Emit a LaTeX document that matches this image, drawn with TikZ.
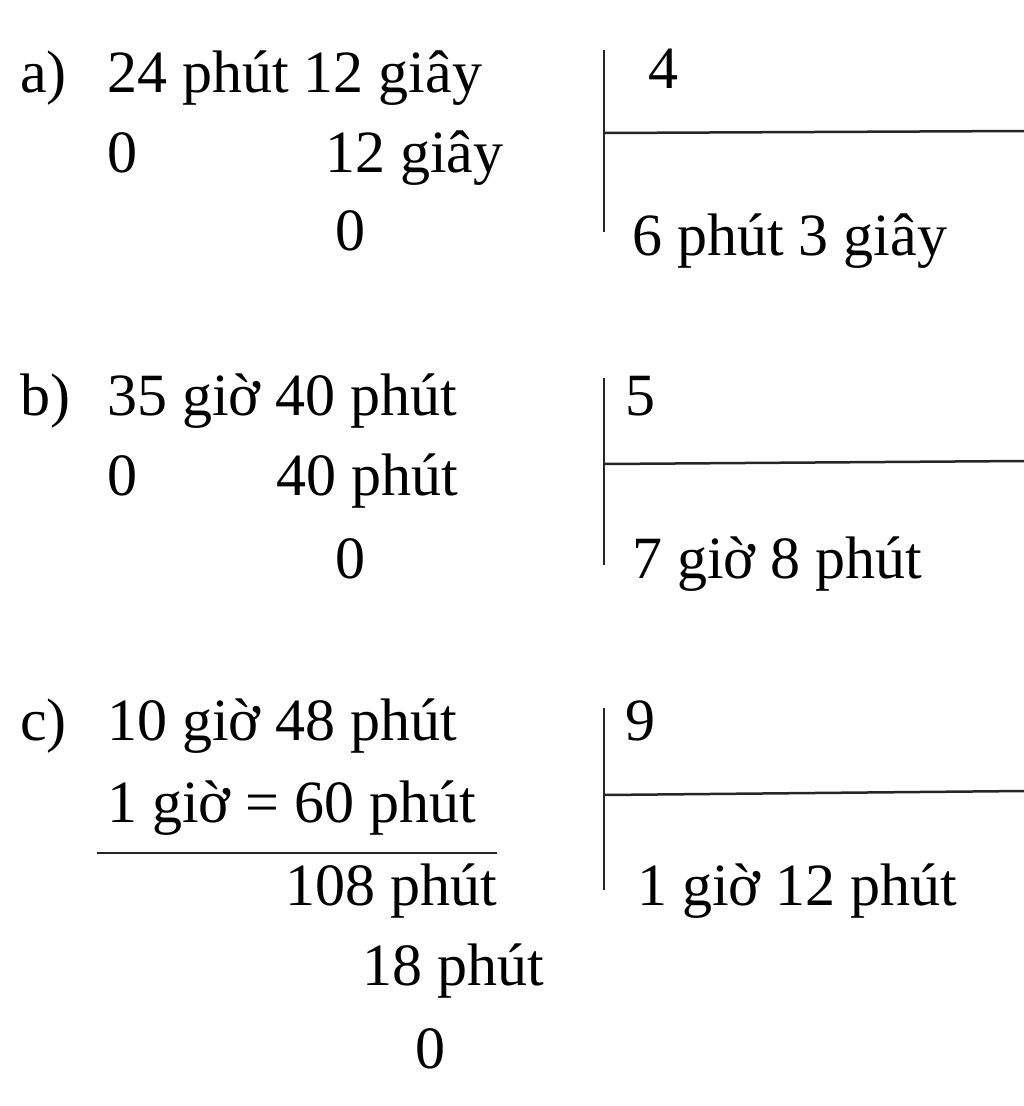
\documentclass[tikz,border=0pt]{standalone}
\usepackage{fontspec}
\setmainfont{Liberation Serif}
\begin{document}
\begin{tikzpicture}[x=1pt,y=-1pt,
  t/.style={anchor=base west,inner sep=0pt,font=\fontsize{60}{70}\selectfont},
  tr/.style={anchor=base east,inner sep=0pt,font=\fontsize{60}{70}\selectfont},
  ln/.style={line width=2.5pt,black!85}]
\useasboundingbox (0,0) rectangle (1024,1106);
% a
\node[t] (la) at (20,92) {a)};
\node[t] (a1) at (107,92) {24 phút 12 giây};
\node[t] (a2) at (107,172) {0};
\node[t] (a3) at (325,172) {12 giây};
\node[t] (a4) at (335,250) {0};
\node[t] (ad) at (648,88) {4};
\node[t] (aq) at (632,255) {6 phút 3 giây};
\draw[ln] (604,50) -- (604,232);
\draw[ln] (604,133) -- (1024,131);
% b
\node[t] (lb) at (20,415) {b)};
\node[t] (b1) at (107,415) {35 giờ 40 phút};
\node[t] (b2) at (107,495) {0};
\node[t] (b3) at (276,495) {40 phút};
\node[t] (b4) at (335,578) {0};
\node[t] (bd) at (625,415) {5};
\node[t] (bq) at (632,578) {7 giờ 8 phút};
\draw[ln] (604,378) -- (604,565);
\draw[ln] (604,464) -- (1024,461);
% c
\node[t] (lc) at (20,740) {c)};
\node[t] (c1) at (107,740) {10 giờ 48 phút};
\node[t] (c2) at (107,822) {1 giờ = 60 phút};
\node[tr] (c3) at (497,905) {108 phút};
\node[t] (c4) at (362,985) {18 phút};
\node[t] (c5) at (415,1068) {0};
\node[t] (cd) at (625,740) {9};
\node[t] (cq) at (637,905) {1 giờ 12 phút};
\draw[ln] (97,853) -- (497,853);
\draw[ln] (604,708) -- (604,890);
\draw[ln] (604,795) -- (1024,791);
\end{tikzpicture}
\end{document}
